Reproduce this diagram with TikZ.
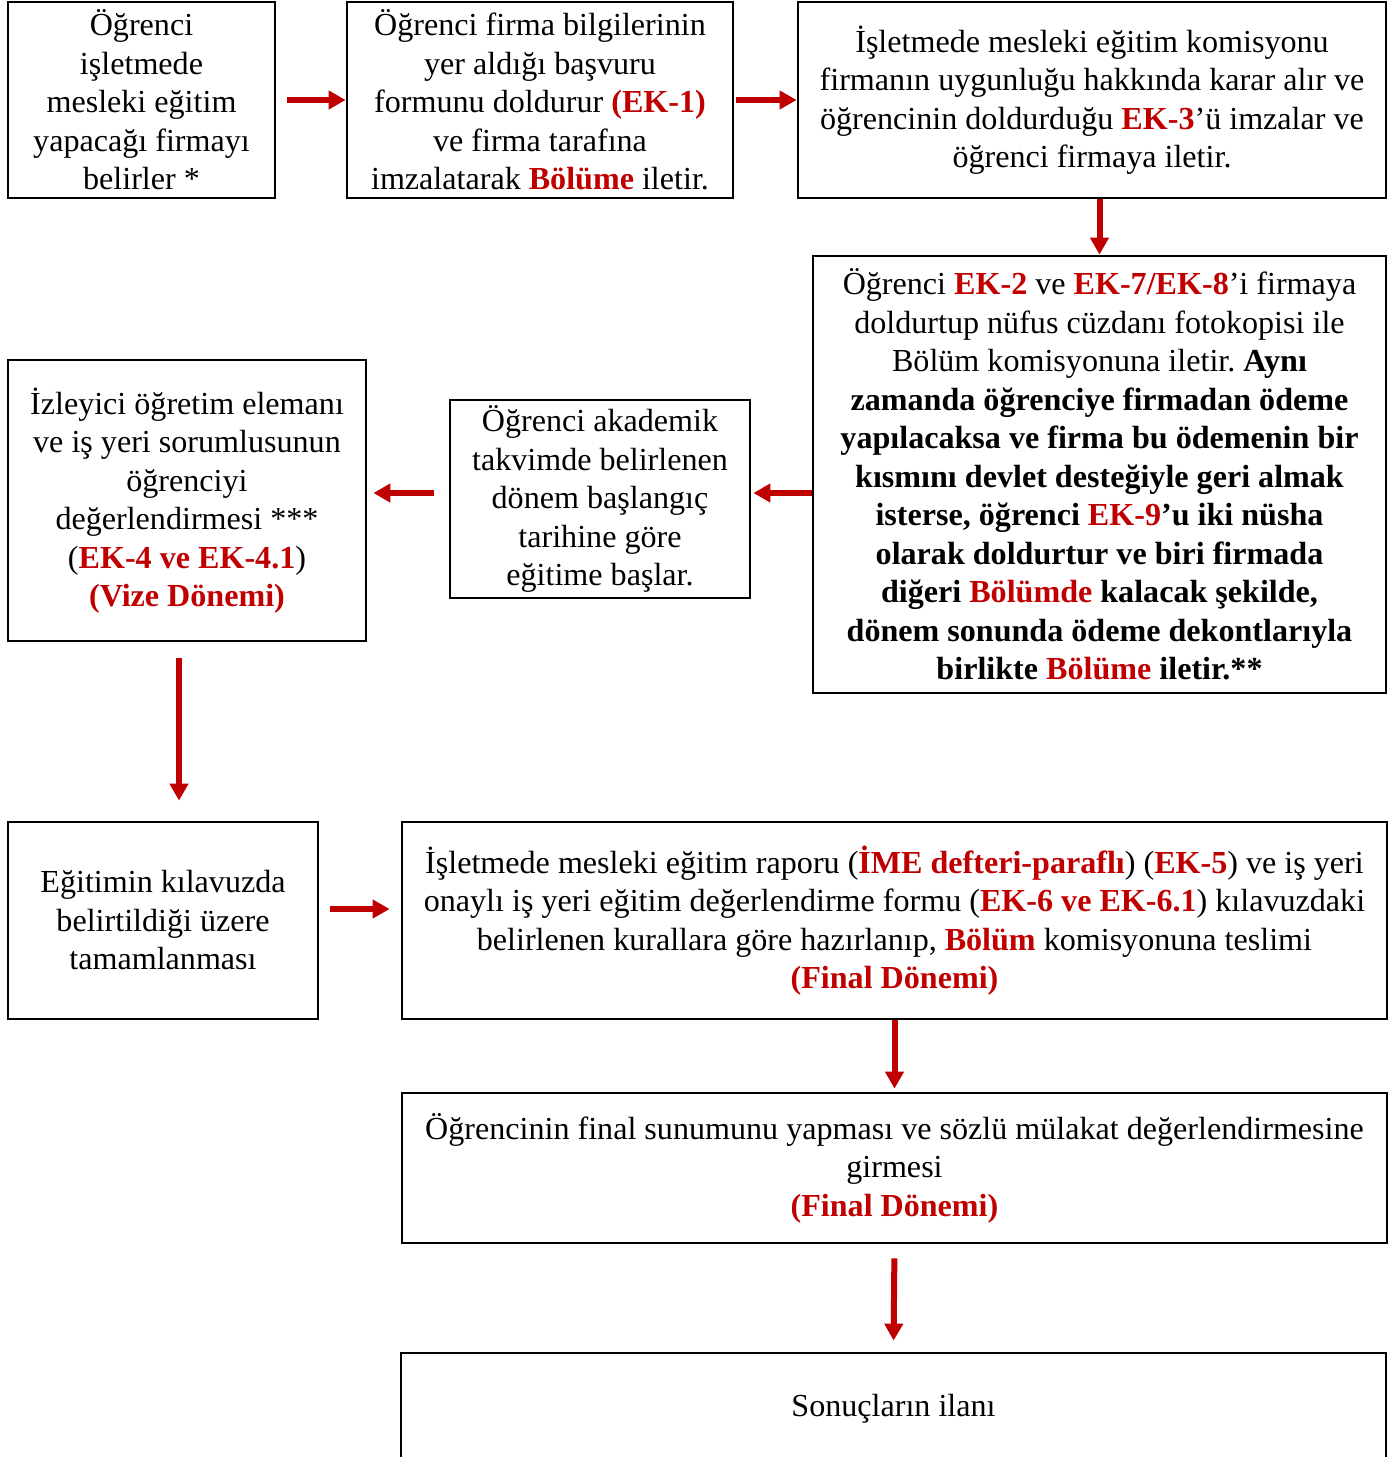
\documentclass[tikz,border=0pt]{standalone}
\usepackage{fontspec}
\setmainfont{Liberation Serif}
\usetikzlibrary{arrows.meta}
\definecolor{dred}{RGB}{192,0,0}
\newcommand{\rb}[1]{\textcolor{dred}{\textbf{#1}}}
\frenchspacing
\begin{document}
\begin{tikzpicture}[x=0.5pt,y=-0.5pt,
  box/.style={draw=black, line width=1.4pt, inner sep=0pt, align=center,
    font=\fontsize{16.05}{19.25}\selectfont},
  arr/.style={draw=dred, line width=3pt, -{Triangle[length=8.5pt,width=9pt]}}]
\useasboundingbox (0,0) rectangle (1390,1457);

\node[box, minimum width=133.5pt, minimum height=98pt] (A) at (141.5,100)
  {Öğrenci\\ işletmede\\ mesleki eğitim\\ yapacağı firmayı\\ belirler *};
\node[box, minimum width=193pt, minimum height=98pt] (B) at (540,100)
  {Öğrenci firma bilgilerinin\\ yer aldığı başvuru\\ formunu doldurur \rb{(EK-1)}\\ ve firma tarafına\\ imzalatarak \rb{Bölüme} iletir.};
\node[box, minimum width=294pt, minimum height=98pt] (C) at (1092,100)
  {İşletmede mesleki eğitim komisyonu\\ firmanın uygunluğu hakkında karar alır ve\\ öğrencinin doldurduğu \rb{EK-3}’ü imzalar ve\\ öğrenci firmaya iletir.};
\node[box, minimum width=286.5pt, minimum height=218.5pt] (D) at (1099.5,474.5)
  {Öğrenci \rb{EK-2} ve \rb{EK-7/EK-8}’i firmaya\\ doldurtup nüfus cüzdanı fotokopisi ile\\ Bölüm komisyonuna iletir. \textbf{Aynı}\\
   \textbf{zamanda öğrenciye firmadan ödeme}\\ \textbf{yapılacaksa ve firma bu ödemenin bir}\\ \textbf{kısmını devlet desteğiyle geri almak}\\
   \textbf{isterse, öğrenci \rb{EK-9}’u iki nüsha}\\ \textbf{olarak doldurtur ve biri firmada}\\ \textbf{diğeri \rb{Bölümde} kalacak şekilde,}\\
   \textbf{dönem sonunda ödeme dekontlarıyla}\\ \textbf{birlikte \rb{Bölüme} iletir.**}};
\node[box, minimum width=150pt, minimum height=99pt] (E) at (600,499)
  {Öğrenci akademik\\ takvimde belirlenen\\ dönem başlangıç\\ tarihine göre\\ eğitime başlar.};
\node[box, minimum width=179pt, minimum height=140.5pt] (F) at (187,500.5)
  {İzleyici öğretim elemanı\\ ve iş yeri sorumlusunun\\ öğrenciyi\\ değerlendirmesi ***\\ (\rb{EK-4 ve EK-4.1})\\ \rb{(Vize Dönemi)}};
\node[box, minimum width=155pt, minimum height=98.5pt] (G) at (163,920.5)
  {Eğitimin kılavuzda\\ belirtildiği üzere\\ tamamlanması};
\node[box, minimum width=492.5pt, minimum height=98.5pt] (H) at (894.5,920.5)
  {İşletmede mesleki eğitim raporu (\rb{İME defteri-paraflı}) (\rb{EK-5}) ve iş yeri\\ onaylı iş yeri eğitim değerlendirme formu (\rb{EK-6 ve EK-6.1}) kılavuzdaki\\ belirlenen kurallara göre hazırlanıp, \rb{Bölüm} komisyonuna teslimi\\ \rb{(Final Dönemi)}};
\node[box, minimum width=492.5pt, minimum height=75pt] (I) at (894.5,1168)
  {Öğrencinin final sunumunu yapması ve sözlü mülakat değerlendirmesine\\ girmesi\\ \rb{(Final Dönemi)}};
\node[box, minimum width=492.5pt, minimum height=55.5pt] (J) at (893.5,1408.5)
  {Sonuçların ilanı};

\coordinate (fg) at (179,0);
\draw[arr, shorten <=5.5pt] (A.east) -- (B.west);
\draw[arr, shorten <=1pt] (B.east) -- (C.west);
\draw[arr] (C.south -| D.north) -- (D.north);
\draw[arr, shorten >=1pt] (D.west |- 0,493) -- (E.east |- 0,493);
\draw[arr, shorten <=7.5pt, shorten >=3pt] (E.west |- 0,493) -- (F.east |- 0,493);
\draw[arr, shorten <=8pt, shorten >=10pt] (F.south -| fg) -- (G.north -| fg);
\draw[arr, shorten <=5.5pt, shorten >=5.5pt] (G.east |- 0,909) -- (H.west |- 0,909);
\draw[arr, shorten >=1.5pt] (H.south) -- (I.north);
\draw[arr, shorten <=7pt, shorten >=5.5pt] (I.south) -- (J.north);
\end{tikzpicture}
\end{document}
